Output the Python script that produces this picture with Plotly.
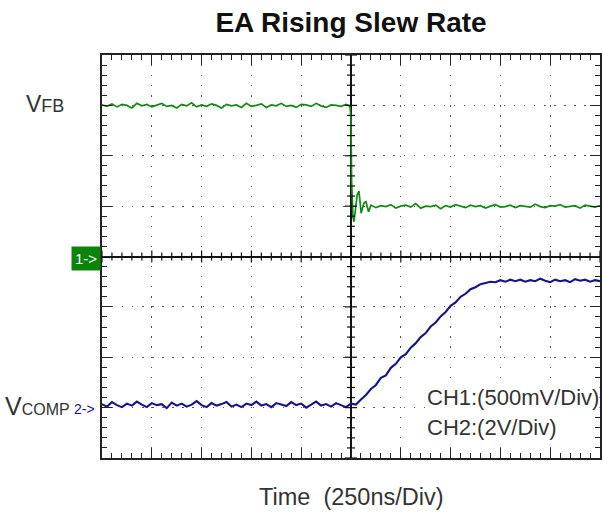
import plotly.graph_objects as go

# ---- Data (screen divisions relative to centre; time in ns, 250 ns/div) ----
# CH1 (V_FB) samples
g_pre_t0 = -1250
g_pre = [3.01, 2.98, 3.03, 2.97, 3.02, 3.00, 2.95, 3.04, 2.99, 3.02, 2.97, 3.01, 3.04, 2.98, 3.00,
         2.95, 3.02, 2.99, 3.05, 2.97, 3.01, 2.98, 3.03, 3.00, 2.95, 3.02, 2.99, 3.01, 2.96, 3.04,
         2.98, 3.00, 3.03, 2.96, 3.01, 2.99, 3.04, 2.98, 3.00, 2.96, 3.02, 3.01, 2.98, 3.04, 2.99,
         2.96, 3.01, 3.00, 2.98, 3.02]
g_edge_t = [-8, -4, 0, 3, 6, 10, 15, 22, 31, 40, 51, 58, 65, 75, 82, 88, 95, 101]
g_edge = [2.99, 2.95, 2.70, 1.50, 0.95, 0.78, 0.69, 0.90, 1.22, 1.30, 0.86, 0.97, 1.06, 1.09, 1.00, 0.89, 0.96, 1.02]
g_post_t0 = 125
g_post = [0.97, 1.01, 0.99, 1.03, 0.96, 1.00, 1.02, 0.98, 1.05, 0.96, 1.00, 0.99, 1.02, 0.95, 1.01,
          0.98, 1.03, 1.00, 0.97, 1.02, 0.99, 1.01, 0.96, 1.00, 1.03, 0.98, 0.99, 1.02, 0.97, 1.01,
          1.00, 0.98, 1.04, 0.99, 0.97, 1.01, 1.00, 1.03, 0.98, 0.99, 1.01, 0.96, 1.02, 1.00, 0.98,
          1.01]

# CH2 (V_COMP) samples
b_pre_t0 = -1250
b_pre = [-2.93, -2.98, -2.89, -2.95, -2.99, -2.92, -2.96, -2.88, -2.94, -2.99, -2.91, -2.95, -2.93,
         -3.01, -2.90, -2.96, -2.92, -2.98, -2.94, -2.87, -2.95, -2.99, -2.91, -2.96, -2.93, -2.89,
         -2.98, -2.94, -2.99, -2.92, -2.95, -2.88, -2.96, -2.93, -2.99, -2.91, -2.94, -2.97, -2.89,
         -2.95, -2.92, -3.00, -2.94, -2.88, -2.96, -2.93, -2.98, -2.91, -2.95, -2.99, -2.92, -2.94]
b_rise_t0 = 50
b_rise = [-2.84, -2.75, -2.63, -2.55, -2.41, -2.36, -2.21, -2.13, -2.00, -1.94, -1.81, -1.72, -1.60,
          -1.52, -1.39, -1.31, -1.19, -1.10, -0.98, -0.91, -0.80, -0.74, -0.65, -0.61, -0.55, -0.53,
          -0.50, -0.51, -0.47, -0.50, -0.46, -0.49]
b_post_t0 = 850
b_post = [-0.46, -0.50, -0.47, -0.49, -0.44, -0.48, -0.51, -0.46, -0.49, -0.47, -0.51, -0.45, -0.48,
          -0.46, -0.50, -0.47, -0.49]

SAMPLE_NS = 25
NS_PER_DIV = 250

def times(t0, vals):
    return [t0 + SAMPLE_NS * i for i in range(len(vals))]

g_t = times(g_pre_t0, g_pre) + g_edge_t + times(g_post_t0, g_post)
g_y = g_pre + g_edge + g_post
b_t = times(b_pre_t0, b_pre) + times(b_rise_t0, b_rise) + times(b_post_t0, b_post)
b_y = b_pre + b_rise + b_post

GREEN = "#118a11"
BLUE = "#14148c"

fig = go.Figure()
fig.add_trace(go.Scatter(x=g_t, y=g_y, mode="lines", line=dict(color=GREEN, width=1.7), showlegend=False))
fig.add_trace(go.Scatter(x=b_t, y=b_y, mode="lines", line=dict(color=BLUE, width=2.1), showlegend=False))

axis_common = dict(
    showline=True, linecolor="#222", linewidth=1.5, mirror="ticks",
    ticks="inside", ticklen=10, tickcolor="#222", tickwidth=1.2,
    showticklabels=False,
    showgrid=True, gridcolor="#555", gridwidth=1.3, griddash="1.3px,8.75px",
    zeroline=True, zerolinecolor="#111", zerolinewidth=1.8,
)
fig.update_xaxes(range=[-5 * NS_PER_DIV, 5 * NS_PER_DIV], dtick=NS_PER_DIV, tick0=0,
                 minor=dict(dtick=NS_PER_DIV / 5, ticks="inside", ticklen=5, tickcolor="#222", showgrid=False),
                 **axis_common)
fig.update_yaxes(range=[-4, 4], dtick=1, tick0=0,
                 minor=dict(dtick=0.2, ticks="inside", ticklen=5, tickcolor="#222", showgrid=False),
                 **axis_common)

# centre-cross tick marks
shapes = []
for i in range(-25, 26):
    if i == 0:
        continue
    t = i * NS_PER_DIV / 5
    h = 6 if i % 5 == 0 else 4
    shapes.append(dict(type="line", xref="x", yref="y", ysizemode="pixel", yanchor=0,
                       x0=t, x1=t, y0=-h, y1=h, line=dict(color="#111", width=1.2)))
for i in range(-20, 21):
    if i == 0:
        continue
    v = i * 0.2
    h = 6 if i % 5 == 0 else 4
    shapes.append(dict(type="line", xref="x", yref="y", xsizemode="pixel", xanchor=0,
                       x0=-h, x1=h, y0=v, y1=v, line=dict(color="#111", width=1.2)))

annotations = [
    dict(text="Time&nbsp; (250ns/Div)", xref="paper", yref="paper", x=0.5, y=0, yanchor="middle",
         yshift=-39, showarrow=False, font=dict(size=23.5, color="#333")),
    dict(text="V<span style='font-size:18px'>FB</span>", xref="paper", yref="y", x=0, y=3,
         xanchor="right", yanchor="middle", xshift=-36, yshift=1, showarrow=False,
         font=dict(size=23, color="#333")),
    dict(text="V<span style='font-size:16px'>COMP</span>", xref="paper", yref="y", x=0, y=-3,
         xanchor="right", yanchor="middle", xshift=-30, yshift=2, showarrow=False,
         font=dict(size=25, color="#333")),
    dict(text="2-&gt;", xref="paper", yref="y", x=0, y=-3, xanchor="right", yanchor="middle",
         xshift=-5, yshift=-1, showarrow=False, font=dict(size=14, color=BLUE)),
    dict(text="1-&gt;", xref="paper", yref="y", x=0, y=0, xanchor="right", yanchor="middle",
         xshift=-1, yshift=-2, showarrow=False, bgcolor="#0a840a", borderpad=3,
         font=dict(size=15, color="white")),
    dict(text="CH1:(500mV/Div)", xref="paper", yref="y", x=0.65, y=-2.80, xanchor="left",
         yanchor="middle", showarrow=False, bgcolor="white", borderpad=0,
         font=dict(size=22, color="#333")),
    dict(text="CH2:(2V/Div)", xref="paper", yref="y", x=0.65, y=-3.39, xanchor="left",
         yanchor="middle", showarrow=False, bgcolor="white", borderpad=0,
         font=dict(size=22, color="#333")),
]

fig.update_layout(
    width=604, height=513,
    margin=dict(l=102, r=2, t=55, b=55),
    paper_bgcolor="white", plot_bgcolor="white",
    font=dict(family="Liberation Sans, Arial, sans-serif"),
    title=dict(text="<b>EA Rising Slew Rate</b>", xref="paper", x=0.5, xanchor="center",
               yref="container", y=1 - 22 / 513, yanchor="middle",
               font=dict(size=28, color="#111")),
    shapes=shapes,
    annotations=annotations,
)

fig.write_html("out.html", config={"displayModeBar": False})

# remove the browser's default page margin so the figure fills the window exactly
with open("out.html", "r", encoding="utf-8") as f:
    html = f.read()
html = html.replace("<head>", "<head><style>html,body{margin:0;padding:0;overflow:hidden;}</style>", 1)
with open("out.html", "w", encoding="utf-8") as f:
    f.write(html)
